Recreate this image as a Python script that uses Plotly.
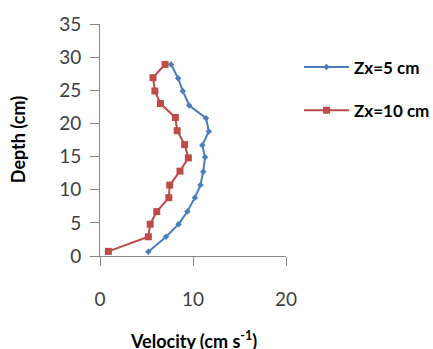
import plotly.graph_objects as go

depth_5 = [28.9, 26.8, 24.9, 22.7, 20.8, 18.8, 16.7, 14.9, 12.7, 10.7, 8.8, 6.7, 4.8, 2.9, 0.65]
vel_5 = [7.65, 8.4, 8.9, 9.6, 11.4, 11.7, 11.0, 11.3, 11.1, 10.8, 10.2, 9.4, 8.45, 7.1, 5.2]

depth_10 = [28.9, 26.9, 24.9, 23.0, 20.9, 18.9, 16.8, 14.8, 12.8, 10.7, 8.8, 6.7, 4.8, 2.9, 0.7]
vel_10 = [7.0, 5.7, 5.9, 6.5, 8.1, 8.3, 9.1, 9.5, 8.6, 7.5, 7.4, 6.1, 5.4, 5.2, 0.9]

series_names = ["Zx=5 cm", "Zx=10 cm"]
x_ticks = [0, 10, 20]
y_ticks = [0, 5, 10, 15, 20, 25, 30, 35]

FONT = "Lato, 'Open Sans', sans-serif"

fig = go.Figure()
fig.add_trace(go.Scatter(
    x=vel_5, y=depth_5, mode="lines+markers", name=series_names[0],
    legendgroup="a",
    line=dict(color="#4A7EBB", width=2),
    marker=dict(symbol="diamond", size=5, color="#4A7EBB"),
))
fig.add_trace(go.Scatter(
    x=vel_10, y=depth_10, mode="lines+markers", name=series_names[1],
    legendgroup="b",
    line=dict(color="#BE4B48", width=2),
    marker=dict(symbol="square", size=7, color="#BE4B48"),
))

axis_common = dict(
    showgrid=False, zeroline=False, showline=True, linecolor="#868686", linewidth=1,
    ticks="outside", ticklen=9, tickcolor="#868686",
    tickfont=dict(family=FONT, size=19, color="#404040"),
)
fig.update_xaxes(range=[0, 20], tickvals=x_ticks, ticklabelstandoff=17, **axis_common)
fig.update_yaxes(range=[0, 35], tickvals=y_ticks, ticklabelstandoff=5, **axis_common)

fig.add_annotation(
    text="<b>Velocity (cm s<sup>-1</sup>)</b>", xref="paper", yref="paper",
    x=0.5, y=-0.36, xanchor="center", yanchor="middle", showarrow=False,
    font=dict(family=FONT, size=18, color="#000000"),
)
fig.add_annotation(
    text="<b>Depth (cm)</b>", xref="paper", yref="paper",
    x=-0.44, y=0.5, xanchor="center", yanchor="middle", textangle=-90, showarrow=False,
    font=dict(family=FONT, size=18, color="#000000"),
)

fig.update_layout(
    width=433, height=349,
    margin=dict(l=100, r=147, t=24, b=93, autoexpand=False),
    paper_bgcolor="white", plot_bgcolor="white",
    showlegend=True,
    legend=dict(
        x=1.07, y=0.89, xanchor="left", yanchor="top",
        font=dict(family=FONT, size=17, color="#000000", weight="bold"),
        tracegroupgap=18, itemwidth=45, bgcolor="rgba(0,0,0,0)",
    ),
)

fig.write_html("out.html")
